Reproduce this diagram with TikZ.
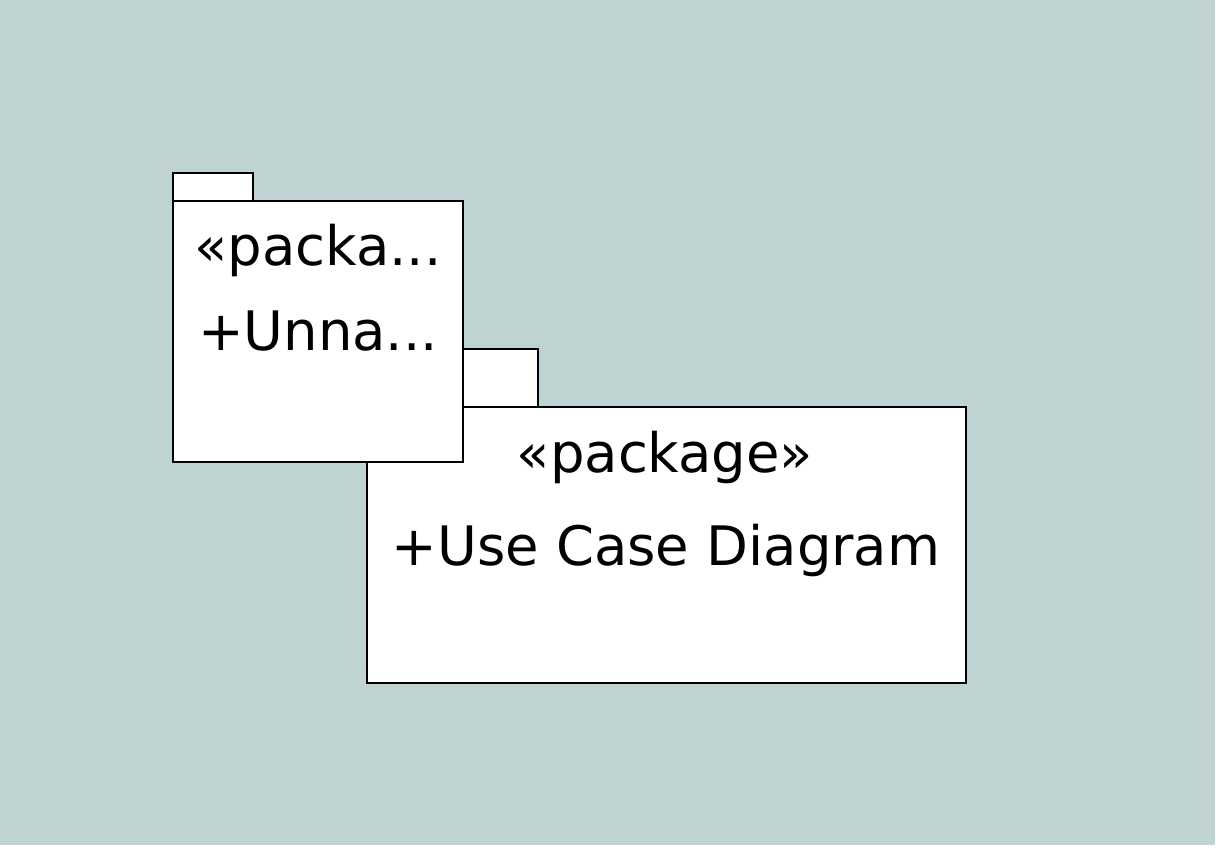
\documentclass[tikz,border=0pt]{standalone}
\usepackage{fontspec}
\setmainfont{DejaVu Sans}
\definecolor{bgteal}{RGB}{190,211,210}
\tikzset{
  pkgline/.style={draw=black,line width=2.1pt,fill=white},
  pkgtext/.style={anchor=base,inner sep=0pt,font=\fontsize{38.7}{46}\selectfont}
}
\begin{document}
\begin{tikzpicture}[x=0.025cm,y=-0.025cm]
            \useasboundingbox (0,0) rectangle (1231,861);
            \fill[bgteal] (0,0) rectangle (1215,845);
            % big package
            \draw[pkgline] (463,349) rectangle (538,407);
            \draw[pkgline] (367,407) rectangle (966,683);
            \node[pkgtext] (bigstereo) at (665,472) {«package»};
            \node[pkgtext] (bigname) at (666,565) {+Use Case Diagram};
            % small package
            \draw[pkgline] (173,173) rectangle (253,201);
            \draw[pkgline] (173,201) rectangle (463,462);
            \node[pkgtext] (smallstereo) at (318,265) {«packa...};
            \node[pkgtext] (smallname) at (318,350) {+Unna...};
        \end{tikzpicture}
\end{document}
